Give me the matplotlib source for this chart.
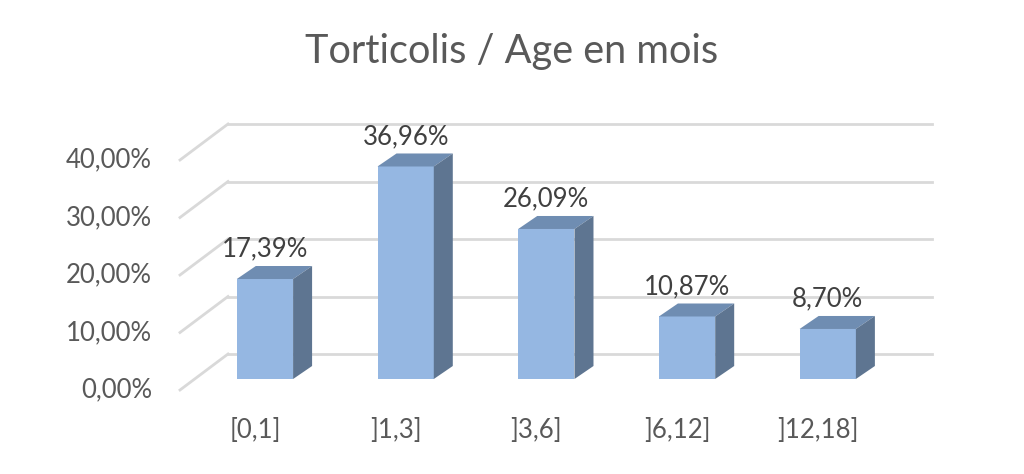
import matplotlib.pyplot as plt
import matplotlib.transforms as mtransforms
from matplotlib.patches import Polygon

# donnees
categories = ["[0,1]", "]1,3]", "]3,6]", "]6,12]", "]12,18]"]
valeurs = [17.39, 36.96, 26.09, 10.87, 8.70]
graduations = [0, 10, 20, 30, 40]

def pct(v):
    return f"{v:.2f}%".replace(".", ",")

plt.rcParams['font.family'] = ['Lato', 'DejaVu Sans']

fig = plt.figure(figsize=(10.24, 4.74), dpi=100)
W, H = 1024, 474
ax = fig.add_axes([194.6 / W, 95 / H, 703.5 / W, 230 / H])
ax.set_xlim(-0.5, len(categories) - 0.5)
ax.set_ylim(0, 40)
ax.axis("off")

# decalages de profondeur (pixels)
fond = (33.4, 25)     # plan arriere
devant = (-14.6, -11)  # plan avant (axe)
prof = (19, 13)        # profondeur des barres

grille = "#D9D9D9"
trans_fond = mtransforms.offset_copy(ax.transData, fig, x=fond[0], y=fond[1], units='dots')
ident = mtransforms.IdentityTransform()

fig.canvas.draw()
for g in graduations:
    ax.plot([-0.5, len(categories) - 0.5], [g, g], color=grille, lw=2,
            transform=trans_fond, clip_on=False, zorder=1)
    x0, y0 = ax.transData.transform((-0.5, g))
    ax.plot([x0 + devant[0], x0 + fond[0]], [y0 + devant[1], y0 + fond[1]],
            color=grille, lw=2, transform=ident, clip_on=False, zorder=1)
    ax.annotate(pct(g), (-0.5, g), xytext=(-42.6, -11), textcoords='offset pixels',
                ha='right', va='center', fontsize=18.5, color="#595959")

largeur = 0.4
for i, v in enumerate(valeurs):
    ax.bar(i, v, width=largeur, color="#95B7E2", zorder=3, clip_on=False)
    (xa, ya) = ax.transData.transform((i - largeur / 2, v))
    (xb, yb) = ax.transData.transform((i + largeur / 2, v))
    (xc, yc) = ax.transData.transform((i + largeur / 2, 0))
    dessus = [(xa, ya), (xb, yb), (xb + prof[0], yb + prof[1]), (xa + prof[0], ya + prof[1])]
    cote = [(xc, yc), (xb, yb), (xb + prof[0], yb + prof[1]), (xc + prof[0], yc + prof[1])]
    ax.add_patch(Polygon(dessus, closed=True, facecolor="#6F8DB2", edgecolor="none",
                         transform=ident, clip_on=False, zorder=3))
    ax.add_patch(Polygon(cote, closed=True, facecolor="#5E7591", edgecolor="none",
                         transform=ident, clip_on=False, zorder=3))
    ax.annotate(pct(v), (i, v), xytext=(0, 30), textcoords='offset pixels',
                ha='center', va='center', fontsize=18.5, color="#404040")
    ax.annotate(categories[i], (i, 0), xytext=(-10, -51), textcoords='offset pixels',
                ha='center', va='center', fontsize=18.5, color="#595959")

fig.text(0.5, 1 - 52 / H, "Torticolis / Age en mois", ha='center', va='center',
         fontsize=28.6, color="#595959")

fig.savefig("out.png", dpi=100)
